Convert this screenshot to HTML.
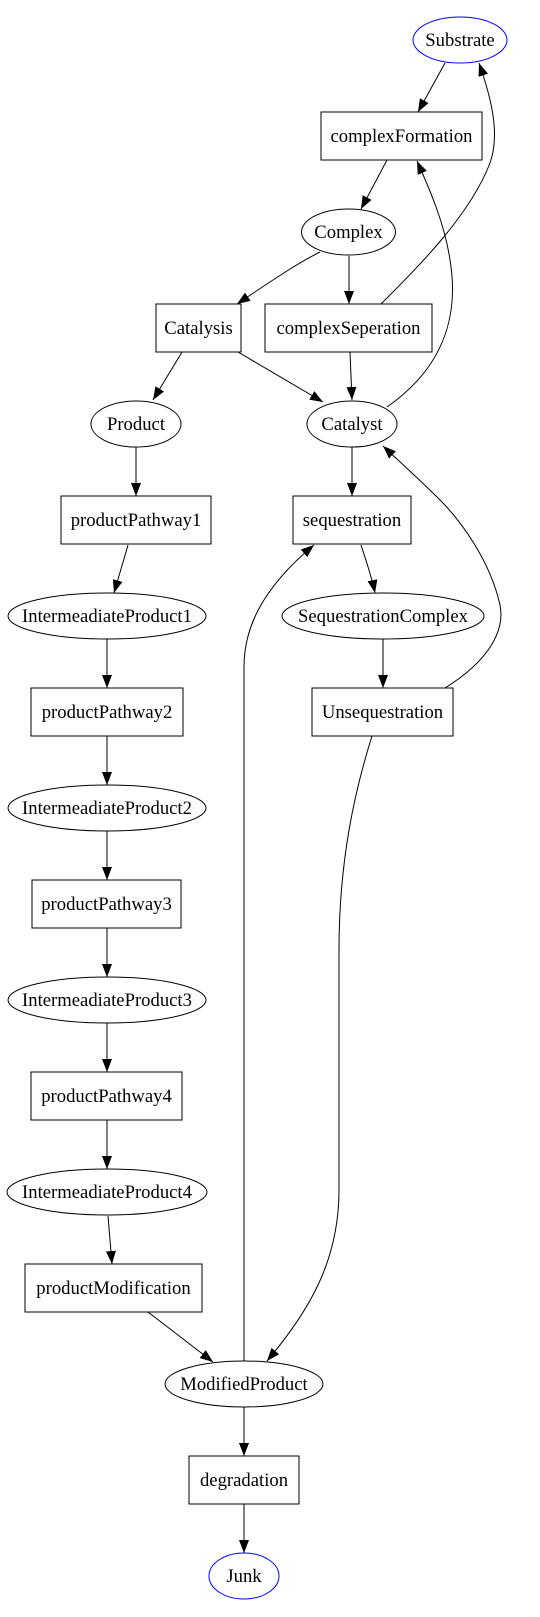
<!DOCTYPE html>
<html><head><meta charset="utf-8"><style>html,body{margin:0;padding:0;background:#fff}svg{display:block}</style></head>
<body>
<svg width="540" height="1617" viewBox="0 0 540 1617" xmlns="http://www.w3.org/2000/svg">
<defs>
<marker id="a" markerUnits="userSpaceOnUse" markerWidth="14" markerHeight="10" refX="13" refY="5" orient="auto">
<path d="M0,0 L13,5 L0,10 Z" fill="#000"/>
</marker>
</defs>
<rect width="540" height="1617" fill="#fff"/>
<g fill="none" stroke="#000" stroke-width="1">
<rect x="321" y="112" width="161" height="48"/>
<rect x="156" y="304" width="85" height="48"/>
<rect x="265" y="304" width="167" height="48"/>
<rect x="61" y="496" width="150" height="48"/>
<rect x="293" y="496" width="118" height="48"/>
<rect x="31" y="688" width="152" height="48"/>
<rect x="312" y="688" width="141" height="48"/>
<rect x="32" y="880" width="149" height="48"/>
<rect x="31" y="1072" width="151" height="48"/>
<rect x="25" y="1264" width="177" height="48"/>
<rect x="189" y="1456" width="110" height="48"/>
<ellipse cx="348.5" cy="232" rx="47" ry="23"/>
<ellipse cx="136" cy="424" rx="45" ry="23"/>
<ellipse cx="352" cy="424" rx="45" ry="23"/>
<ellipse cx="107" cy="616" rx="99" ry="23"/>
<ellipse cx="383" cy="616" rx="101" ry="23"/>
<ellipse cx="107" cy="808" rx="99" ry="23"/>
<ellipse cx="107" cy="1000" rx="99" ry="23"/>
<ellipse cx="107" cy="1192" rx="100" ry="23"/>
<ellipse cx="244" cy="1384" rx="79" ry="23"/>
</g>
<g fill="none" stroke="#0000ff" stroke-width="1">
<ellipse cx="460" cy="40" rx="47" ry="23"/>
<ellipse cx="244" cy="1576" rx="35" ry="23"/>
</g>
<g fill="none" stroke="#000" stroke-width="1" marker-end="url(#a)">
<path d="M445,63 L418,112"/>
<path d="M387,160 L361,209"/>
<path d="M320,252 C300,262 280,275 237,304"/>
<path d="M349,256 L349,304"/>
<path d="M381,304 C420,265 470,215 490,163 C500,135 492,100 479,63"/>
<path d="M387,407 C440,370 460,320 450,260 C445,225 430,190 417,161"/>
<path d="M182,352 L153,400"/>
<path d="M238,352 L323,402"/>
<path d="M350,352 L352,400"/>
<path d="M136,447 L136,496"/>
<path d="M352,447 L352,496"/>
<path d="M445,688 C490,660 505,630 500,605 C490,560 460,520 440,500 C420,480 400,462 383,446"/>
<path d="M244,1361 L244,667 C244,630 260,590 314,545"/>
<path d="M361,545 C366,560 372,578 375,593"/>
<path d="M383,639 L383,688"/>
<path d="M372,736 C355,790 339,860 339,950 L339,1190 C339,1260 310,1310 267,1361"/>
<path d="M128,545 L114,593"/>
<path d="M107,639 L107,688"/>
<path d="M107,736 L107,785"/>
<path d="M107,831 L107,880"/>
<path d="M107,928 L107,977"/>
<path d="M107,1023 L107,1072"/>
<path d="M107,1120 L107,1169"/>
<path d="M108,1216 L112,1264"/>
<path d="M148,1312 L213,1362"/>
<path d="M244,1407 L244,1456"/>
<path d="M244,1504 L244,1553"/>
</g>
<g font-family="Liberation Serif, serif" font-size="18.67" fill="#000" text-anchor="middle">
<text x="460" y="46">Substrate</text>
<text x="401.5" y="142">complexFormation</text>
<text x="348.5" y="238">Complex</text>
<text x="198.5" y="334">Catalysis</text>
<text x="348.5" y="334">complexSeperation</text>
<text x="136" y="430">Product</text>
<text x="352" y="430">Catalyst</text>
<text x="136" y="526">productPathway1</text>
<text x="352" y="526">sequestration</text>
<text x="107" y="622">IntermeadiateProduct1</text>
<text x="383" y="622">SequestrationComplex</text>
<text x="107" y="718">productPathway2</text>
<text x="382.5" y="718">Unsequestration</text>
<text x="107" y="814">IntermeadiateProduct2</text>
<text x="106.5" y="910">productPathway3</text>
<text x="107" y="1006">IntermeadiateProduct3</text>
<text x="106.5" y="1102">productPathway4</text>
<text x="107" y="1198">IntermeadiateProduct4</text>
<text x="113.5" y="1294">productModification</text>
<text x="244" y="1390">ModifiedProduct</text>
<text x="244" y="1486">degradation</text>
<text x="244" y="1582">Junk</text>
</g>
</svg>
</body></html>
